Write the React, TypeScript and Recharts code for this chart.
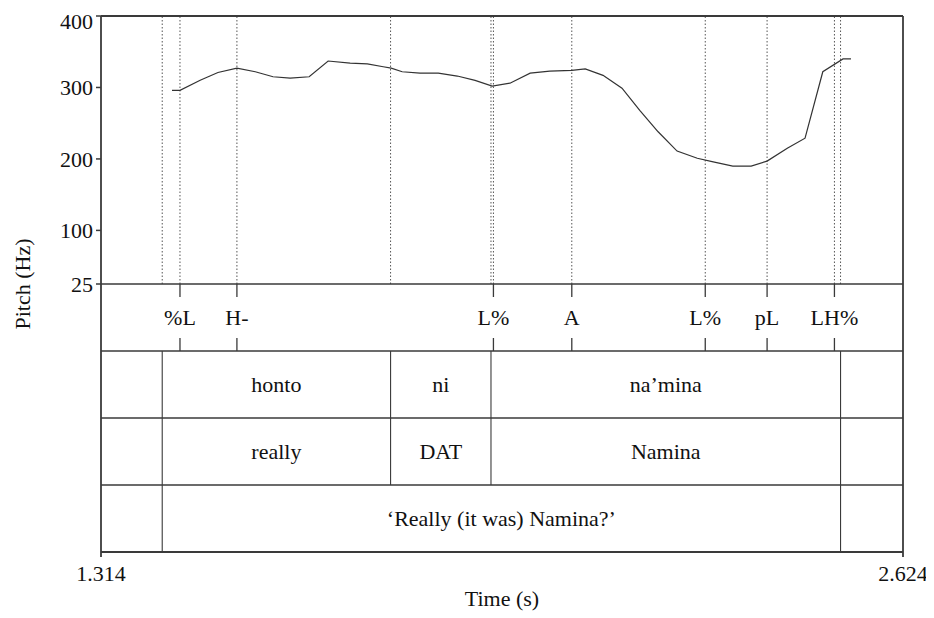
import {
  ComposedChart,
  Line,
  Scatter,
  ReferenceLine,
  ReferenceArea,
  XAxis,
  YAxis,
} from "recharts";

// pitch track (time in s, f0 in Hz)
const PITCH_T = [
  1.43, 1.443, 1.476, 1.505, 1.536, 1.566, 1.595, 1.623, 1.654, 1.685, 1.721,
  1.749, 1.775, 1.788, 1.806, 1.835, 1.865, 1.896, 1.925, 1.953, 1.982, 2.015,
  2.047, 2.083, 2.105, 2.134, 2.165, 2.194, 2.224, 2.255, 2.288, 2.314, 2.346,
  2.376, 2.402, 2.435, 2.464, 2.493, 2.526, 2.539,
];
const PITCH_HZ = [
  296, 296, 310, 321, 327, 322, 315, 313, 315, 337, 334, 333, 329, 327, 322,
  320, 320, 316, 310, 302, 306, 320, 323, 324, 326, 317, 299, 268, 238, 211,
  201, 196, 190, 190, 197, 215, 229, 322, 340, 340,
];

// tone tier (points)
const TONE_TIMES = [1.443, 1.536, 1.955, 2.083, 2.301, 2.402, 2.512];
const TONE_LABELS = ["%L", "H-", "L%", "A", "L%", "pL", "LH%"];

// interval tiers
const WORD_BOUNDS = [1.414, 1.787, 1.951, 2.522];
const WORDS = ["honto", "ni", "na’mina"];
const GLOSSES = ["really", "DAT", "Namina"];
const TRANSLATION_BOUNDS = [1.414, 2.522];
const TRANSLATION = ["‘Really (it was) Namina?’"];

const X_DOMAIN = [1.314, 2.624];
const X_TICKS = [1.314, 2.624];
const Y_TICKS = [25, 100, 200, 300, 400];

const FONT = "Liberation Serif, Times New Roman, serif";
const INK = "#111";
const LINE = "#3a3a3a";
const TIER_H = 67;
const textStyle = { fontFamily: FONT, fontSize: 22 };

const pitchData = PITCH_T.map((t, i) => ({ t, hz: PITCH_HZ[i] }));
const toneData = TONE_TIMES.map((t, i) => ({ t, row: 3.5, label: TONE_LABELS[i] }));
const dottedTimes = [...WORD_BOUNDS, ...TONE_TIMES];

const intervals = (bounds: number[], labels: string[]) =>
  labels.map((label, i) => ({ x1: bounds[i], x2: bounds[i + 1], label }));

const tiers = [
  { top: 3, bottom: 2, items: intervals(WORD_BOUNDS, WORDS), bounds: WORD_BOUNDS },
  { top: 2, bottom: 1, items: intervals(WORD_BOUNDS, GLOSSES), bounds: WORD_BOUNDS },
  {
    top: 1,
    bottom: 0,
    items: intervals(TRANSLATION_BOUNDS, TRANSLATION),
    bounds: TRANSLATION_BOUNDS,
  },
];

const ToneMark = (props: any) => {
  const { cx, cy, payload } = props;
  const half = TIER_H / 2;
  return (
    <g>
      <line x1={cx} x2={cx} y1={cy - half} y2={cy - half + 13} stroke={LINE} strokeWidth={1.3} />
      <line x1={cx} x2={cx} y1={cy + half - 13} y2={cy + half} stroke={LINE} strokeWidth={1.3} />
      <text x={cx} y={cy} dy="0.34em" textAnchor="middle" fill={INK} style={textStyle}>
        {payload.label}
      </text>
    </g>
  );
};

export default function App() {
  return (
    <div style={{ background: "#fff", fontFamily: FONT }}>
      <ComposedChart
        width={926}
        height={610}
        data={pitchData}
        margin={{ top: 8, right: 31, left: 5, bottom: 8 }}
      >
        <XAxis
          dataKey="t"
          type="number"
          domain={X_DOMAIN}
          ticks={X_TICKS}
          tickFormatter={(v: number) => v.toFixed(3)}
          tickSize={5}
          tickMargin={8}
          height={58}
          stroke={LINE}
          axisLine={{ stroke: LINE, strokeWidth: 1.8 }}
          tickLine={{ stroke: LINE, strokeWidth: 1.8 }}
          tick={{ fill: INK, style: textStyle }}
          label={{
            value: "Time (s)",
            position: "insideBottom",
            offset: 4,
            fill: INK,
            style: textStyle,
          }}
        />
        <YAxis
          yAxisId="hz"
          dataKey="hz"
          type="number"
          domain={[-350, 400]}
          ticks={Y_TICKS}
          width={88}
          tickSize={5}
          tickMargin={3}
          axisLine={{ stroke: LINE, strokeWidth: 1.8 }}
          tickLine={{ stroke: LINE, strokeWidth: 1.5 }}
          tick={{ fill: INK, style: textStyle }}
          label={{
            value: "Pitch (Hz)",
            angle: -90,
            position: "insideLeft",
            offset: 9,
            fill: INK,
            style: { ...textStyle, textAnchor: "middle" },
          }}
        />
        <YAxis yAxisId="tier" dataKey="row" type="number" domain={[0, 8]} hide />

        {/* dotted guides through the pitch panel */}
        {dottedTimes.map((t, i) => (
          <ReferenceLine
            key={`dot-${i}`}
            yAxisId="tier"
            segment={[
              { x: t, y: 4 },
              { x: t, y: 8 },
            ]}
            stroke="#555"
            strokeWidth={1}
            strokeDasharray="1.5 2"
          />
        ))}

        {/* tier separators and frame */}
        {[8, 4, 3, 2, 1].map((y) => (
          <ReferenceLine
            key={`h-${y}`}
            yAxisId="tier"
            y={y}
            stroke={LINE}
            strokeWidth={y === 8 ? 1.8 : 1.5}
          />
        ))}
        <ReferenceLine yAxisId="tier" x={X_DOMAIN[1]} stroke={LINE} strokeWidth={1.8} />

        {/* interval tiers */}
        {tiers.map((tier, ti) =>
          tier.bounds.map((b, bi) => (
            <ReferenceLine
              key={`b-${ti}-${bi}`}
              yAxisId="tier"
              segment={[
                { x: b, y: tier.bottom },
                { x: b, y: tier.top },
              ]}
              stroke={LINE}
              strokeWidth={1.1}
            />
          ))
        )}
        {tiers.map((tier, ti) =>
          tier.items.map((it, ii) => (
            <ReferenceArea
              key={`a-${ti}-${ii}`}
              yAxisId="tier"
              x1={it.x1}
              x2={it.x2}
              y1={tier.bottom}
              y2={tier.top}
              fill="none"
              stroke="none"
              label={{
                value: it.label,
                position: "center",
                fill: INK,
                style: textStyle,
              }}
            />
          ))
        )}

        <Line
          yAxisId="hz"
          dataKey="hz"
          type="linear"
          stroke="#333"
          strokeWidth={1.2}
          dot={false}
          isAnimationActive={false}
        />
        <Scatter
          yAxisId="tier"
          data={toneData}
          dataKey="row"
          shape={ToneMark}
          isAnimationActive={false}
        />
      </ComposedChart>
    </div>
  );
}
